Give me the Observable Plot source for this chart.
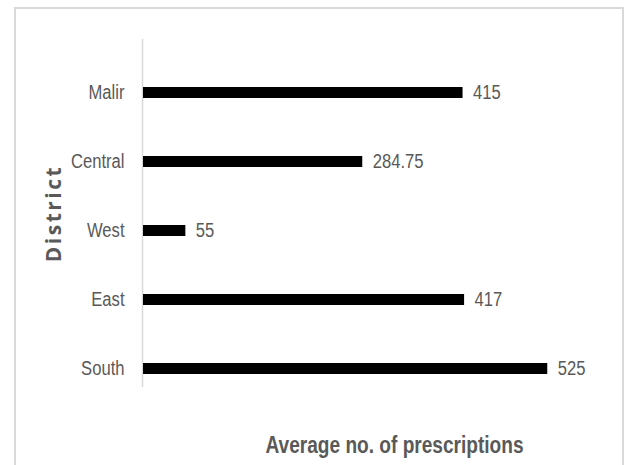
<!DOCTYPE html>
<html>
<head>
<meta charset="utf-8">
<script src="https://cdn.jsdelivr.net/npm/d3@7"></script>
<script src="https://cdn.jsdelivr.net/npm/@observablehq/plot@0.6"></script>
<style>
  html, body { margin: 0; padding: 0; background: #fff; }
  #wrap { position: relative; width: 633px; height: 465px; overflow: hidden; }
  #box { position: absolute; left: 14px; top: 7px; width: 610px; height: 520px;
         border: 2px solid #d9d9d9; box-sizing: border-box; }
  #chart { position: absolute; left: 0; top: 0; }
</style>
</head>
<body>
<div id="wrap"><div id="box"></div><div id="chart"></div></div>
<script>
// District averages, listed top to bottom
const districts = ["Malir", "Central", "West", "East", "South"];
const averages = [415, 284.75, 55, 417, 525];
const xLabel = "Average no. of prescriptions";
const yLabel = "District";

const rows = districts.map((d, i) => ({district: d, value: averages[i]}));
const sans = "'Liberation Sans', Arial, sans-serif";
const grey = "#595959";

const chart = Plot.plot({
  width: 633,
  height: 465,
  marginLeft: 143,
  marginRight: 28,
  marginTop: 39,
  marginBottom: 78,
  style: {fontFamily: sans, fontSize: "20px", color: grey, background: "transparent"},
  x: {domain: [0, 600], axis: null},
  y: {domain: districts, range: [56, 405], paddingInner: 0.84, paddingOuter: 0.42, label: null},
  marks: [
    Plot.ruleX([0], {stroke: "#d9d9d9", strokeWidth: 1.5, dx: -1}),
    Plot.barX(rows, {y: "district", x: "value", fill: "black"}),
    Plot.text(rows, {y: "district", x: "value", text: d => String(d.value),
      textAnchor: "start", dx: 10, fill: grey, fontSize: 20}),
    Plot.axisY({tickSize: 0, tickPadding: 19, fontSize: 20, fill: grey, label: null}),
    Plot.text([xLabel], {frameAnchor: "bottom", dx: 20, dy: 58, fontSize: 23,
      fontWeight: "bold", fill: grey, lineAnchor: "middle"}),
    Plot.text([yLabel], {frameAnchor: "left", dx: -89, dy: 0, rotate: -90, fontSize: 21,
      fontWeight: "bold", fill: grey, fontFamily: "'Open Sans', sans-serif",
      lineAnchor: "middle", textAnchor: "middle"})
  ]
});
document.getElementById("chart").appendChild(chart);

// narrow the horizontal texts; spread the rotated district title
d3.select(chart).selectAll("text").each(function() {
  const t = d3.select(this);
  if (this.textContent === yLabel) {
    t.style("letter-spacing", "2.5px");
  } else {
    const len = this.getComputedTextLength();
    t.attr("textLength", len * 0.83).attr("lengthAdjust", "spacingAndGlyphs");
  }
});
</script>
</body>
</html>
